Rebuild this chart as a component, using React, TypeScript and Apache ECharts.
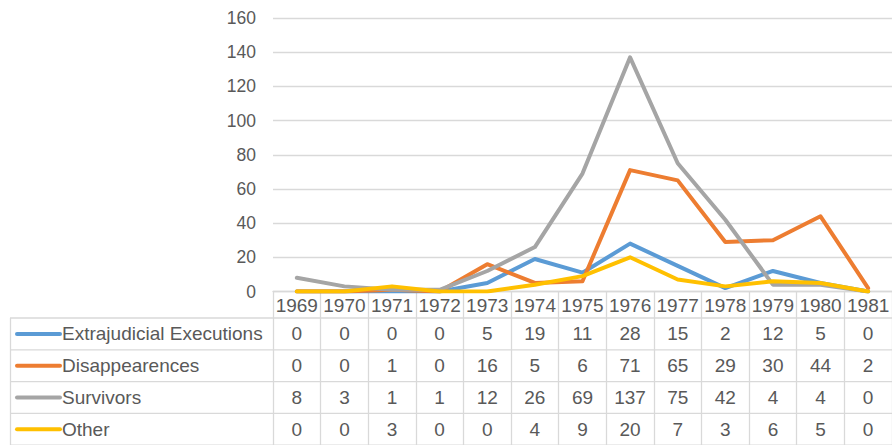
import React, { useEffect, useRef } from "react";
import * as echarts from "echarts";

const years = ["1969", "1970", "1971", "1972", "1973", "1974", "1975", "1976", "1977", "1978", "1979", "1980", "1981"];
const executions = [0, 0, 0, 0, 5, 19, 11, 28, 15, 2, 12, 5, 0];
const disappearances = [0, 0, 1, 0, 16, 5, 6, 71, 65, 29, 30, 44, 2];
const survivors = [8, 3, 1, 1, 12, 26, 69, 137, 75, 42, 4, 4, 0];
const other = [0, 0, 3, 0, 0, 4, 9, 20, 7, 3, 6, 5, 0];
const seriesNames = ["Extrajudicial Executions", "Disappearences", "Survivors", "Other"];
const seriesColors = ["#5B9BD5", "#ED7D31", "#A5A5A5", "#FFC000"];
const yMin = 0;
const yMax = 160;
const yInterval = 20;

const TEXT = "#595959";
const GRID = "#D9D9D9";
const FONT = "'Liberation Sans', Arial, sans-serif";

export default function App() {
  const ref = useRef<HTMLDivElement>(null);
  useEffect(() => {
    document.body.style.margin = "0";
    if (!ref.current) return;
    const chart = echarts.init(ref.current, undefined, { renderer: "svg" });
    const allData = [executions, disappearances, survivors, other];
    chart.setOption({
      animation: false,
      textStyle: { fontFamily: FONT },
      grid: { left: 273, top: 18, width: 626, bottom: 153.5, containLabel: false },
      xAxis: {
        type: "category",
        data: years,
        boundaryGap: true,
        axisLine: { show: true, lineStyle: { color: GRID, width: 1.3 } },
        axisTick: { show: true, interval: 0, length: 154, lineStyle: { color: GRID, width: 1.3 } },
        axisLabel: { show: true, interval: 0, hideOverlap: false, fontSize: 19, color: TEXT, margin: 4, fontFamily: FONT },
        splitLine: { show: false },
      },
      yAxis: {
        type: "value",
        min: yMin,
        max: yMax,
        interval: yInterval,
        axisLine: { show: false },
        axisTick: { show: false },
        axisLabel: { fontSize: 17.5, color: TEXT, margin: 17, fontFamily: FONT },
        splitLine: { show: true, lineStyle: { color: GRID, width: 1.3 } },
      },
      series: seriesNames.map((name, i) => ({
        name,
        type: "line",
        data: allData[i],
        symbol: "none",
        smooth: false,
        lineStyle: { color: seriesColors[i], width: 4, cap: "round", join: "round" },
        itemStyle: { color: seriesColors[i] },
      })),
    });

    const headerBottom = 318;
    const rowH = 31.8;
    const tableLeft = 10;
    const tableRight = 892;
    const graphics: any[] = [];
    for (let r = 0; r <= 4; r++) {
      const y = headerBottom + r * rowH;
      graphics.push({
        type: "line",
        shape: { x1: tableLeft, y1: y, x2: tableRight, y2: y },
        style: { stroke: GRID, lineWidth: 1.3 },
        silent: true,
      });
    }
    graphics.push({
      type: "line",
      shape: { x1: tableLeft + 0.5, y1: headerBottom, x2: tableLeft + 0.5, y2: 445 },
      style: { stroke: GRID, lineWidth: 1.3 },
      silent: true,
    });
    seriesNames.forEach((name, r) => {
      const cy = headerBottom + r * rowH + rowH / 2;
      graphics.push({
        type: "line",
        shape: { x1: 17, y1: cy, x2: 60, y2: cy },
        style: { stroke: seriesColors[r], lineWidth: 4, lineCap: "round" },
        silent: true,
      });
      graphics.push({
        type: "text",
        x: 62,
        y: cy,
        style: {
          text: name,
          fill: TEXT,
          fontSize: 19,
          fontFamily: FONT,
          textAlign: "left",
          textVerticalAlign: "middle",
        },
        silent: true,
      });
      allData[r].forEach((v, c) => {
        const px = chart.convertToPixel({ xAxisIndex: 0 }, years[c]) as number;
        graphics.push({
          type: "text",
          x: px,
          y: cy,
          style: {
            text: String(v),
            fill: TEXT,
            fontSize: 19,
            fontFamily: FONT,
            textAlign: "center",
            textVerticalAlign: "middle",
          },
          silent: true,
        });
      });
    });
    chart.setOption({ graphic: graphics });

    return () => chart.dispose();
  }, []);
  return <div ref={ref} style={{ width: 892, height: 445 }} />;
}
